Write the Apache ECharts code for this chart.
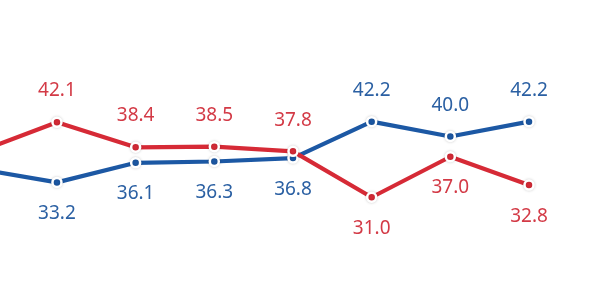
<!DOCTYPE html>
<html><head><meta charset="utf-8">
<script src="https://cdn.jsdelivr.net/npm/echarts@6/dist/echarts.min.js"></script>
<style>html,body{margin:0;padding:0;background:#fff}#c{width:600px;height:300px}</style>
</head><body><div id="c"></div>
<script>
const categories = [0, 1, 2, 3, 4, 5, 6, 7];
const redValues  = [37.7, 42.1, 38.4, 38.5, 37.8, 31.0, 37.0, 32.8];
const blueValues = [35.2, 33.2, 36.1, 36.3, 36.8, 42.2, 40.0, 42.2];
const redLabelPos  = ['top','top','top','top','top','bottom','bottom','bottom'];
const blueLabelPos = ['bottom','bottom','bottom','bottom','bottom','top','top','top'];

const RED = '#d62a36', BLUE = '#1c58a4';
const RED_T = '#d33a46', BLUE_T = '#2b60a3';

function build(vals, pos, tcolor) {
  return vals.map((v, i) => ({
    value: [categories[i], v],
    label: { position: pos[i], color: tcolor }
  }));
}
function series(name, vals, pos, color, tcolor, z) {
  return {
    name, type: 'line', data: build(vals, pos, tcolor), z, clip: false,
    symbol: 'circle', symbolSize: 9,
    lineStyle: { width: 4.2, color },
    itemStyle: { color, borderColor: '#fff', borderWidth: 2.5, shadowBlur: 3, shadowColor: 'rgba(0,0,0,0.18)' },
    label: { show: true, distance: 16, fontSize: 19, fontFamily: 'Noto Sans', color: tcolor,
      formatter: p => p.value[1].toFixed(1) },
    emphasis: { disabled: true },
    animation: false
  };
}
const chart = echarts.init(document.getElementById('c'), null, { renderer: 'canvas' });
chart.setOption({
  animation: false,
  grid: { left: 0, right: 71, top: 69, bottom: 28.5 },
  xAxis: { type: 'value', min: 0.276, max: 7, show: false },
  yAxis: { type: 'value', min: 20, max: 50, show: false },
  series: [
    series('blue', blueValues, blueLabelPos, BLUE, BLUE_T, 2),
    series('red', redValues, redLabelPos, RED, RED_T, 3)
  ]
});
</script></body></html>
